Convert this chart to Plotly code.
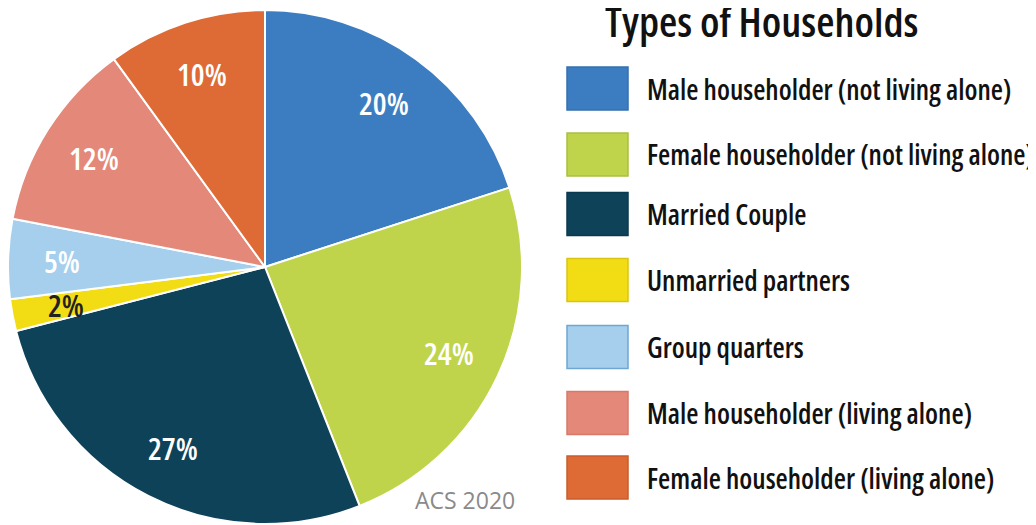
import math
import plotly.graph_objects as go

categories = [
    "Male householder (not living alone)",
    "Female householder (not living alone)",
    "Married Couple",
    "Unmarried partners",
    "Group quarters",
    "Male householder (living alone)",
    "Female householder (living alone)",
]
shares = [20, 24, 27, 2, 5, 12, 10]
colors = ["#3C7DC2", "#BFD44A", "#0E4259", "#F2DC14", "#A5CFEC", "#E4887A", "#DE6A36"]
border_colors = ["#3570AE", "#AABF3F", "#0B3A4F", "#D9C511", "#6FA6D2", "#D9786A", "#C95E2E"]
label_colors = ["white", "white", "white", "#222222", "white", "white", "white"]
title_text = "Types of Households"
source_text = "ACS 2020"

# ---- layout (pixel positions in the 1036x525 window) ----
W, H = 1036, 525
OFF = 8  # default page body margin
CX, CY, R = 265, 267, 257
row_centers = [88.5, 154.5, 214, 280, 347, 413, 477.5]
FONT = "Open Sans, DejaVu Sans Condensed, sans-serif"


def fx(px):
    return (px - OFF) / W


def fy(py):
    return 1 - (py - OFF) / H


def cond(t):
    return f'<span style="font-stretch:75%">{t}</span>'


fig = go.Figure()
fig.add_trace(go.Pie(
    labels=categories,
    values=shares,
    sort=False,
    direction="clockwise",
    rotation=0,
    marker=dict(colors=colors, line=dict(color="white", width=2)),
    textinfo="none",
    hoverinfo="label+percent",
    showlegend=False,
    domain=dict(x=[max(0.0, fx(CX - R)), fx(CX + R)],
                y=[fy(CY + R), min(1.0, fy(CY - R))]),
))

annotations = []
total = sum(shares)
cum = 0
for val, col in zip(shares, label_colors):
    mid = (cum + val / 2) / total * 2 * math.pi
    cum += val
    rf = 0.79
    px = CX + rf * R * math.sin(mid)
    py = CY - rf * R * math.cos(mid)
    annotations.append(dict(
        x=fx(px), y=fy(py), xref="paper", yref="paper",
        text=cond(f"{val}%"), showarrow=False,
        font=dict(family=FONT, size=31, color=col, weight=600),
        xanchor="center", yanchor="middle",
    ))

shapes = []
box_x0, box_x1, box_h = 567, 628, 43
for lab, c, bc, yc in zip(categories, colors, border_colors, row_centers):
    shapes.append(dict(
        type="rect", xref="paper", yref="paper",
        x0=fx(box_x0), x1=fx(box_x1),
        y0=fy(yc + box_h / 2), y1=fy(yc - box_h / 2),
        fillcolor=c, line=dict(color=bc, width=1.5),
    ))
    annotations.append(dict(
        x=fx(645), y=fy(yc), xref="paper", yref="paper",
        text=cond(lab), showarrow=False,
        font=dict(family=FONT, size=28, color="#111111", weight=550),
        xanchor="left", yanchor="middle",
    ))

annotations.append(dict(
    x=fx(761), y=fy(20), xref="paper", yref="paper",
    text=cond(title_text), showarrow=False,
    font=dict(family=FONT, size=42, color="#111111", weight=600),
    xanchor="center", yanchor="middle",
))
annotations.append(dict(
    x=fx(465), y=fy(500), xref="paper", yref="paper",
    text=source_text, showarrow=False,
    font=dict(family=FONT, size=23, color="#8A8A8A", weight=400),
    xanchor="center", yanchor="middle",
))

fig.update_layout(
    width=W, height=H,
    margin=dict(l=0, r=0, t=0, b=0),
    paper_bgcolor="white", plot_bgcolor="white",
    shapes=shapes, annotations=annotations,
)
fig.write_html("out.html")
